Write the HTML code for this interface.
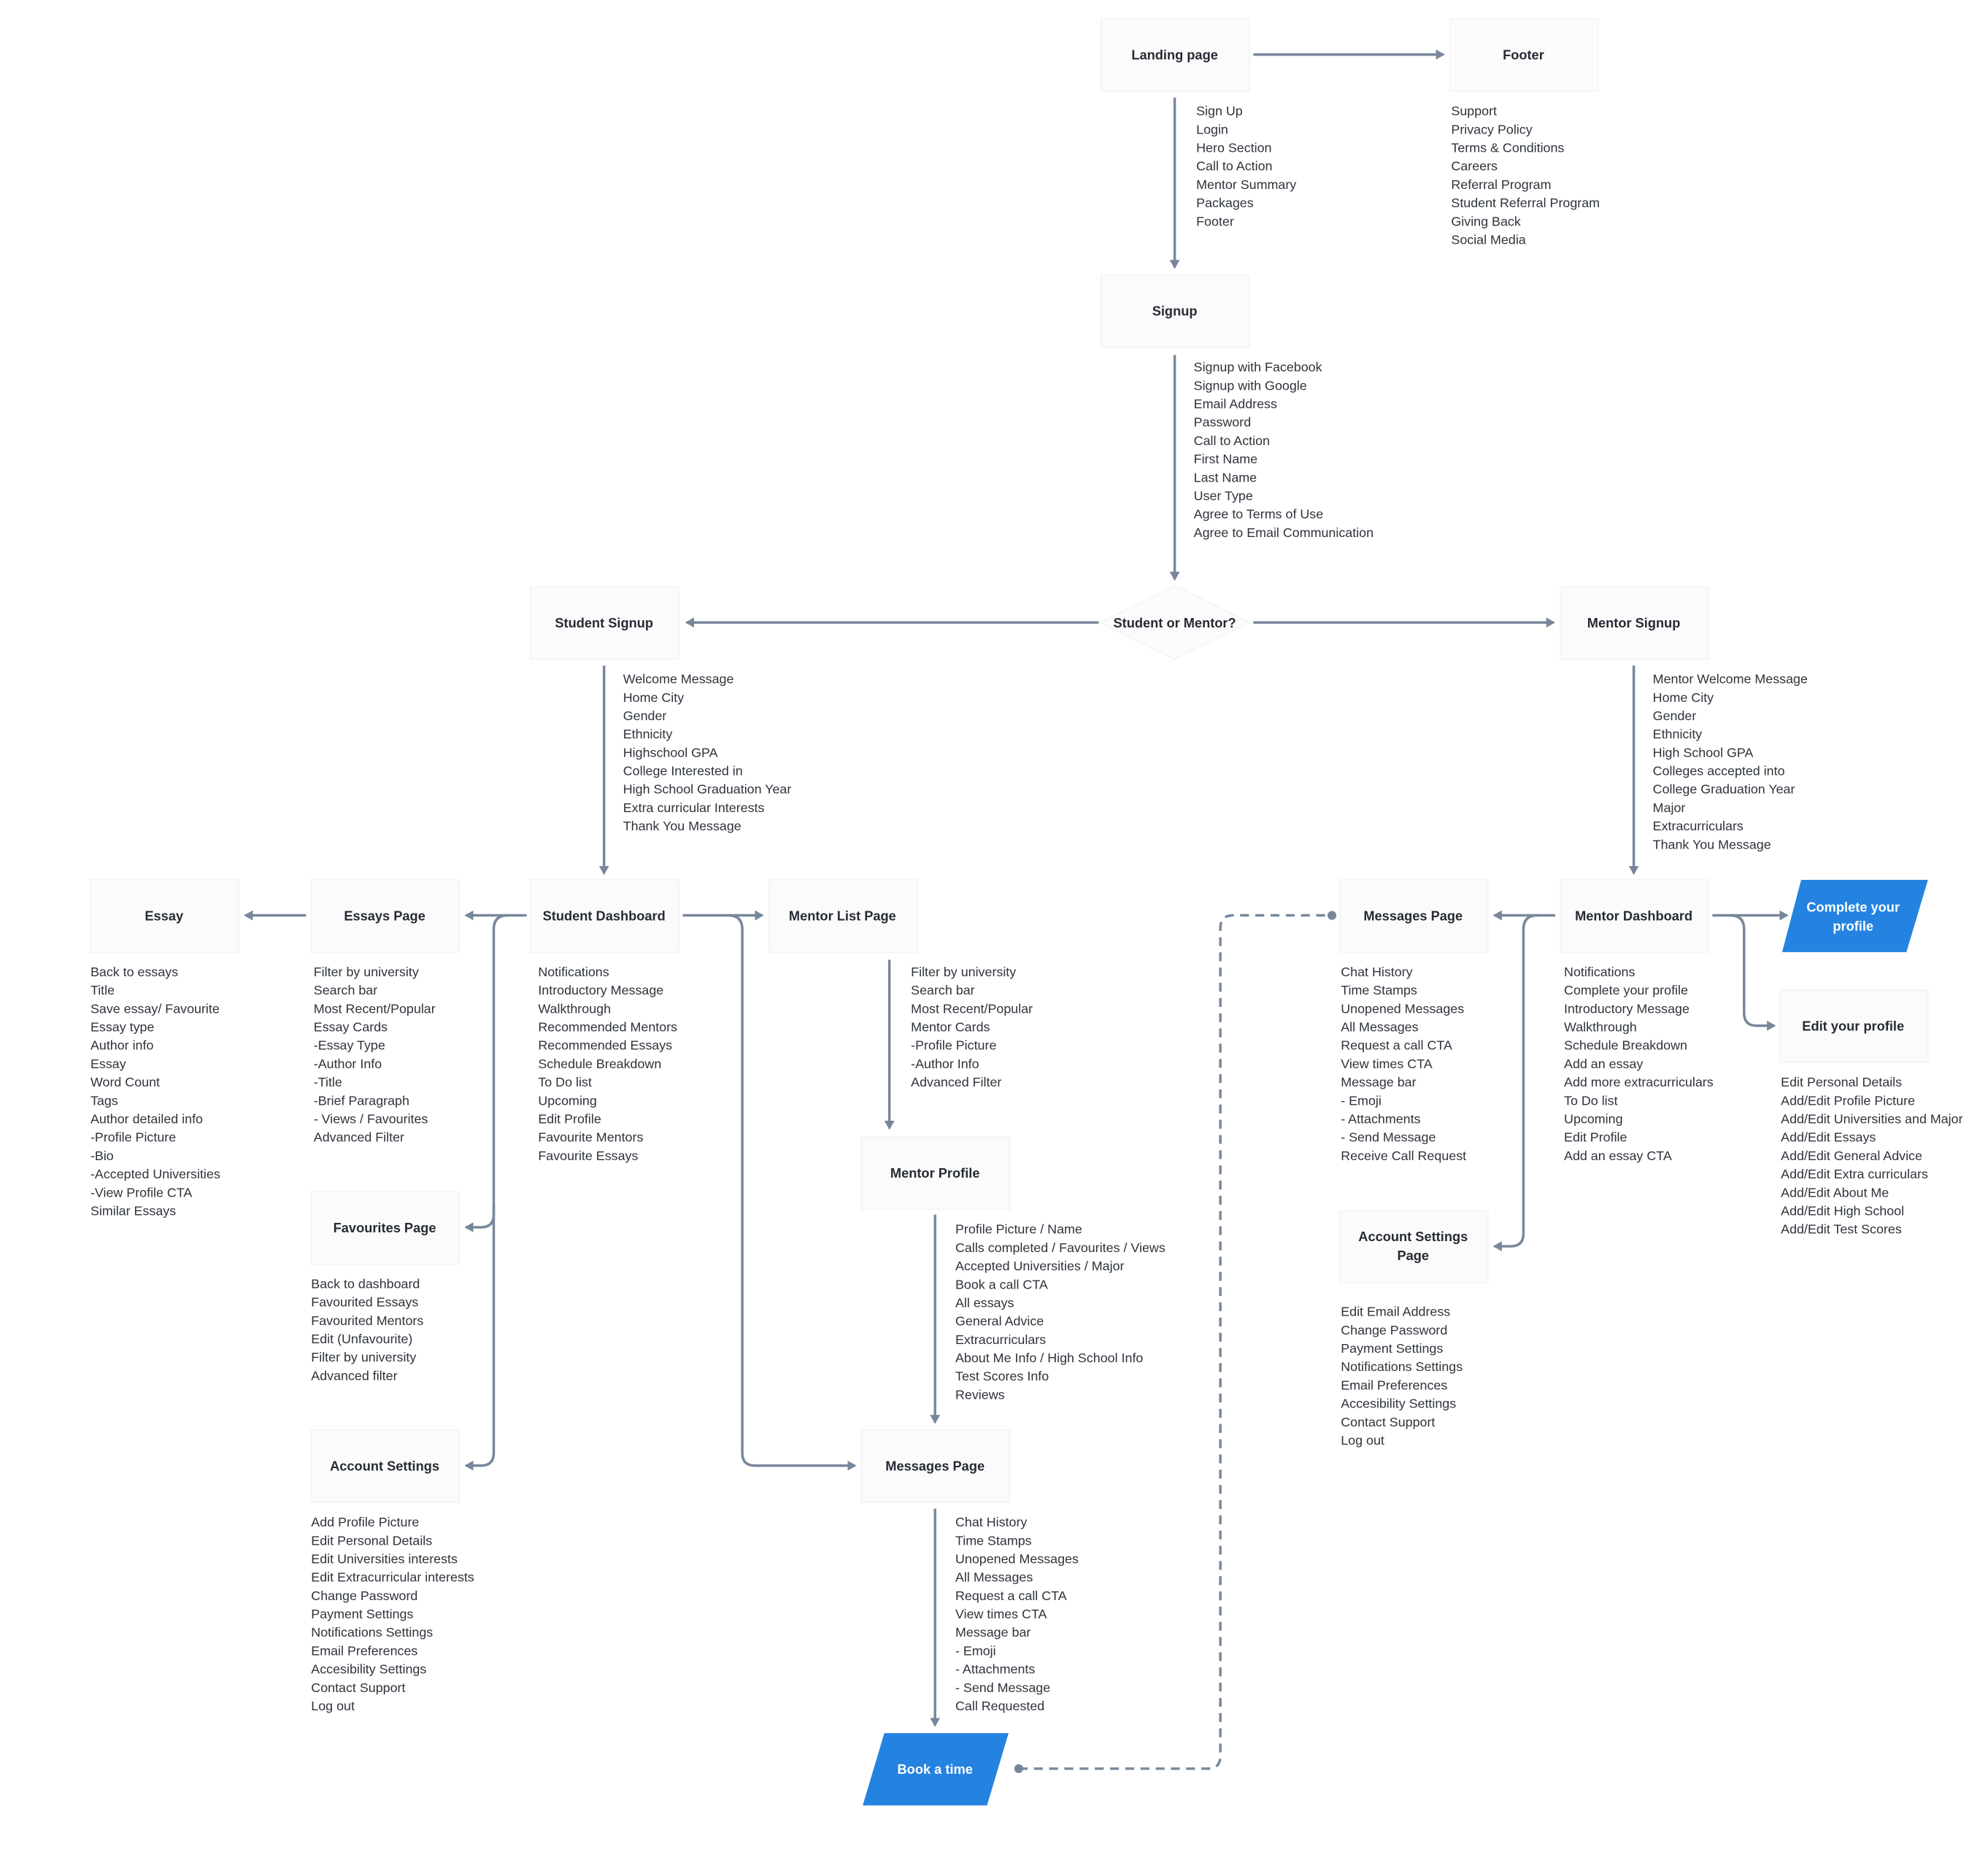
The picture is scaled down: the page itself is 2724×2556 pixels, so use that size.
<!DOCTYPE html>
<html><head><meta charset="utf-8"><style>
html,body{margin:0;padding:0;background:#fff}
svg{display:block}
text{font-family:"Liberation Sans",sans-serif;fill:#2e333b}
.l{font-size:10.3px}
.t{font-size:10.5px;font-weight:bold;text-anchor:middle;fill:#262b33}
.w{font-size:10.5px;font-weight:bold;text-anchor:middle;fill:#fff}
.b{fill:#fbfbfc;stroke:#f3f4f6;stroke-width:1}
.c{fill:none;stroke:#78879b;stroke-width:2}
.d{fill:none;stroke:#78879b;stroke-width:2;stroke-dasharray:7,5}
</style></head><body>
<svg width="2724" height="2556" viewBox="0 0 1567 1471" xmlns="http://www.w3.org/2000/svg">
<defs>
<marker id="a" markerWidth="8" markerHeight="8" refX="6" refY="4" orient="auto" markerUnits="userSpaceOnUse"><path d="M0,0 L7,4 L0,8 z" fill="#78879b"/></marker>
</defs>
<g>
<rect class="b" x="868" y="15" width="117" height="57"/>
<rect class="b" x="1143" y="15" width="117" height="57"/>
<rect class="b" x="868" y="217" width="117" height="57"/>
<polygon class="b" points="926,462 985,491 926,520 867,491"/>
<rect class="b" x="418" y="463" width="117" height="57"/>
<rect class="b" x="1230" y="463" width="117" height="57"/>
<rect class="b" x="71" y="694" width="117" height="57"/>
<rect class="b" x="245" y="694" width="117" height="57"/>
<rect class="b" x="418" y="694" width="117" height="57"/>
<rect class="b" x="606" y="694" width="117" height="57"/>
<rect class="b" x="1056" y="694" width="117" height="57"/>
<rect class="b" x="1230" y="694" width="117" height="57"/>
<rect class="b" x="1403" y="781" width="117" height="57"/>
<rect class="b" x="245" y="940" width="117" height="57"/>
<rect class="b" x="679" y="897" width="117" height="57"/>
<rect class="b" x="1056" y="955" width="117" height="57"/>
<rect class="b" x="245" y="1128" width="117" height="57"/>
<rect class="b" x="679" y="1128" width="117" height="57"/>
<polygon points="1420,694 1520,694 1503,751 1405,751" fill="#2483e0"/>
<polygon points="697,1367 795,1367 778,1424 680,1424" fill="#2483e0"/>
</g>
<g>
<text class="t" x="926" y="47">Landing page</text>
<text class="t" x="1201" y="47">Footer</text>
<text class="t" x="926" y="249">Signup</text>
<text class="t" x="926" y="495">Student or Mentor?</text>
<text class="t" x="476" y="495">Student Signup</text>
<text class="t" x="1288" y="495">Mentor Signup</text>
<text class="t" x="129" y="726">Essay</text>
<text class="t" x="303" y="726">Essays Page</text>
<text class="t" x="476" y="726">Student Dashboard</text>
<text class="t" x="664" y="726">Mentor List Page</text>
<text class="t" x="1114" y="726">Messages Page</text>
<text class="t" x="1288" y="726">Mentor Dashboard</text>
<text class="w" x="1461" y="719">Complete your</text>
<text class="w" x="1461" y="734">profile</text>
<text class="t" x="1461" y="813">Edit your profile</text>
<text class="t" x="303" y="972">Favourites Page</text>
<text class="t" x="737" y="929">Mentor Profile</text>
<text class="t" x="1114" y="979">Account Settings</text>
<text class="t" x="1114" y="994">Page</text>
<text class="t" x="303" y="1160">Account Settings</text>
<text class="t" x="737" y="1160">Messages Page</text>
<text class="w" x="737" y="1399">Book a time</text>
</g>
<g>
<path class="c" d="M988,43 H1138" marker-end="url(#a)"/>
<path class="c" d="M926,77 V211" marker-end="url(#a)"/>
<path class="c" d="M926,280 V457" marker-end="url(#a)"/>
<path class="c" d="M866,491 H541" marker-end="url(#a)"/>
<path class="c" d="M988,491 H1225" marker-end="url(#a)"/>
<path class="c" d="M476,525 V689" marker-end="url(#a)"/>
<path class="c" d="M1288,525 V689" marker-end="url(#a)"/>
<path class="c" d="M241,722 H193" marker-end="url(#a)"/>
<path class="c" d="M415,722 H367" marker-end="url(#a)"/>
<path class="c" d="M400,722 Q389,722 389,733 V958 Q389,968 379,968 H367" marker-end="url(#a)"/>
<path class="c" d="M389,950 V1146 Q389,1156 379,1156 H367" marker-end="url(#a)"/>
<path class="c" d="M538,722 H601" marker-end="url(#a)"/>
<path class="c" d="M574,722 Q585,722 585,733 V1146 Q585,1156 595,1156 H674" marker-end="url(#a)"/>
<path class="c" d="M701,757 V890" marker-end="url(#a)"/>
<path class="c" d="M737,958 V1122" marker-end="url(#a)"/>
<path class="c" d="M737,1190 V1361" marker-end="url(#a)"/>
<path class="c" d="M1226,722 H1178" marker-end="url(#a)"/>
<path class="c" d="M1212,722 Q1201,722 1201,733 V973 Q1201,983 1191,983 H1178" marker-end="url(#a)"/>
<path class="c" d="M1350,722 H1409" marker-end="url(#a)"/>
<path class="c" d="M1364,722 Q1375,722 1375,733 V799 Q1375,809 1385,809 H1399" marker-end="url(#a)"/>
<path class="d" d="M803,1395 H952 Q962,1395 962,1385 V732 Q962,722 972,722 H1050"/>
<circle cx="803" cy="1395" r="3.5" fill="#78879b"/>
<circle cx="1050" cy="722" r="3.5" fill="#78879b"/>
</g>
<g class="l">
<text x="943" y="91"><tspan x="943">Sign Up</tspan><tspan x="943" dy="14.5">Login</tspan><tspan x="943" dy="14.5">Hero Section</tspan><tspan x="943" dy="14.5">Call to Action</tspan><tspan x="943" dy="14.5">Mentor Summary</tspan><tspan x="943" dy="14.5">Packages</tspan><tspan x="943" dy="14.5">Footer</tspan></text>
<text x="1144" y="91"><tspan x="1144">Support</tspan><tspan x="1144" dy="14.5">Privacy Policy</tspan><tspan x="1144" dy="14.5">Terms &amp; Conditions</tspan><tspan x="1144" dy="14.5">Careers</tspan><tspan x="1144" dy="14.5">Referral Program</tspan><tspan x="1144" dy="14.5">Student Referral Program</tspan><tspan x="1144" dy="14.5">Giving Back</tspan><tspan x="1144" dy="14.5">Social Media</tspan></text>
<text x="941" y="293"><tspan x="941">Signup with Facebook</tspan><tspan x="941" dy="14.5">Signup with Google</tspan><tspan x="941" dy="14.5">Email Address</tspan><tspan x="941" dy="14.5">Password</tspan><tspan x="941" dy="14.5">Call to Action</tspan><tspan x="941" dy="14.5">First Name</tspan><tspan x="941" dy="14.5">Last Name</tspan><tspan x="941" dy="14.5">User Type</tspan><tspan x="941" dy="14.5">Agree to Terms of Use</tspan><tspan x="941" dy="14.5">Agree to Email Communication</tspan></text>
<text x="491" y="539"><tspan x="491">Welcome Message</tspan><tspan x="491" dy="14.5">Home City</tspan><tspan x="491" dy="14.5">Gender</tspan><tspan x="491" dy="14.5">Ethnicity</tspan><tspan x="491" dy="14.5">Highschool GPA</tspan><tspan x="491" dy="14.5">College Interested in</tspan><tspan x="491" dy="14.5">High School Graduation Year</tspan><tspan x="491" dy="14.5">Extra curricular Interests</tspan><tspan x="491" dy="14.5">Thank You Message</tspan></text>
<text x="1303" y="539"><tspan x="1303">Mentor Welcome Message</tspan><tspan x="1303" dy="14.5">Home City</tspan><tspan x="1303" dy="14.5">Gender</tspan><tspan x="1303" dy="14.5">Ethnicity</tspan><tspan x="1303" dy="14.5">High School GPA</tspan><tspan x="1303" dy="14.5">Colleges accepted into</tspan><tspan x="1303" dy="14.5">College Graduation Year</tspan><tspan x="1303" dy="14.5">Major</tspan><tspan x="1303" dy="14.5">Extracurriculars</tspan><tspan x="1303" dy="14.5">Thank You Message</tspan></text>
<text x="71" y="770"><tspan x="71">Back to essays</tspan><tspan x="71" dy="14.5">Title</tspan><tspan x="71" dy="14.5">Save essay/ Favourite</tspan><tspan x="71" dy="14.5">Essay type</tspan><tspan x="71" dy="14.5">Author info</tspan><tspan x="71" dy="14.5">Essay</tspan><tspan x="71" dy="14.5">Word Count</tspan><tspan x="71" dy="14.5">Tags</tspan><tspan x="71" dy="14.5">Author detailed info</tspan><tspan x="71" dy="14.5">-Profile Picture</tspan><tspan x="71" dy="14.5">-Bio</tspan><tspan x="71" dy="14.5">-Accepted Universities</tspan><tspan x="71" dy="14.5">-View Profile CTA</tspan><tspan x="71" dy="14.5">Similar Essays</tspan></text>
<text x="247" y="770"><tspan x="247">Filter by university</tspan><tspan x="247" dy="14.5">Search bar</tspan><tspan x="247" dy="14.5">Most Recent/Popular</tspan><tspan x="247" dy="14.5">Essay Cards</tspan><tspan x="247" dy="14.5">-Essay Type</tspan><tspan x="247" dy="14.5">-Author Info</tspan><tspan x="247" dy="14.5">-Title</tspan><tspan x="247" dy="14.5">-Brief Paragraph</tspan><tspan x="247" dy="14.5">- Views / Favourites</tspan><tspan x="247" dy="14.5">Advanced Filter</tspan></text>
<text x="424" y="770"><tspan x="424">Notifications</tspan><tspan x="424" dy="14.5">Introductory Message</tspan><tspan x="424" dy="14.5">Walkthrough</tspan><tspan x="424" dy="14.5">Recommended Mentors</tspan><tspan x="424" dy="14.5">Recommended Essays</tspan><tspan x="424" dy="14.5">Schedule Breakdown</tspan><tspan x="424" dy="14.5">To Do list</tspan><tspan x="424" dy="14.5">Upcoming</tspan><tspan x="424" dy="14.5">Edit Profile</tspan><tspan x="424" dy="14.5">Favourite Mentors</tspan><tspan x="424" dy="14.5">Favourite Essays</tspan></text>
<text x="718" y="770"><tspan x="718">Filter by university</tspan><tspan x="718" dy="14.5">Search bar</tspan><tspan x="718" dy="14.5">Most Recent/Popular</tspan><tspan x="718" dy="14.5">Mentor Cards</tspan><tspan x="718" dy="14.5">-Profile Picture</tspan><tspan x="718" dy="14.5">-Author Info</tspan><tspan x="718" dy="14.5">Advanced Filter</tspan></text>
<text x="1057" y="770"><tspan x="1057">Chat History</tspan><tspan x="1057" dy="14.5">Time Stamps</tspan><tspan x="1057" dy="14.5">Unopened Messages</tspan><tspan x="1057" dy="14.5">All Messages</tspan><tspan x="1057" dy="14.5">Request a call CTA</tspan><tspan x="1057" dy="14.5">View times CTA</tspan><tspan x="1057" dy="14.5">Message bar</tspan><tspan x="1057" dy="14.5">- Emoji</tspan><tspan x="1057" dy="14.5">- Attachments</tspan><tspan x="1057" dy="14.5">- Send Message</tspan><tspan x="1057" dy="14.5">Receive Call Request</tspan></text>
<text x="1233" y="770"><tspan x="1233">Notifications</tspan><tspan x="1233" dy="14.5">Complete your profile</tspan><tspan x="1233" dy="14.5">Introductory Message</tspan><tspan x="1233" dy="14.5">Walkthrough</tspan><tspan x="1233" dy="14.5">Schedule Breakdown</tspan><tspan x="1233" dy="14.5">Add an essay</tspan><tspan x="1233" dy="14.5">Add more extracurriculars</tspan><tspan x="1233" dy="14.5">To Do list</tspan><tspan x="1233" dy="14.5">Upcoming</tspan><tspan x="1233" dy="14.5">Edit Profile</tspan><tspan x="1233" dy="14.5">Add an essay CTA</tspan></text>
<text x="1404" y="857"><tspan x="1404">Edit Personal Details</tspan><tspan x="1404" dy="14.5">Add/Edit Profile Picture</tspan><tspan x="1404" dy="14.5">Add/Edit Universities and Major</tspan><tspan x="1404" dy="14.5">Add/Edit Essays</tspan><tspan x="1404" dy="14.5">Add/Edit General Advice</tspan><tspan x="1404" dy="14.5">Add/Edit Extra curriculars</tspan><tspan x="1404" dy="14.5">Add/Edit About Me</tspan><tspan x="1404" dy="14.5">Add/Edit High School</tspan><tspan x="1404" dy="14.5">Add/Edit Test Scores</tspan></text>
<text x="245" y="1016"><tspan x="245">Back to dashboard</tspan><tspan x="245" dy="14.5">Favourited Essays</tspan><tspan x="245" dy="14.5">Favourited Mentors</tspan><tspan x="245" dy="14.5">Edit (Unfavourite)</tspan><tspan x="245" dy="14.5">Filter by university</tspan><tspan x="245" dy="14.5">Advanced filter</tspan></text>
<text x="753" y="973"><tspan x="753">Profile Picture / Name</tspan><tspan x="753" dy="14.5">Calls completed / Favourites / Views</tspan><tspan x="753" dy="14.5">Accepted Universities / Major</tspan><tspan x="753" dy="14.5">Book a call CTA</tspan><tspan x="753" dy="14.5">All essays</tspan><tspan x="753" dy="14.5">General Advice</tspan><tspan x="753" dy="14.5">Extracurriculars</tspan><tspan x="753" dy="14.5">About Me Info / High School Info</tspan><tspan x="753" dy="14.5">Test Scores Info</tspan><tspan x="753" dy="14.5">Reviews</tspan></text>
<text x="1057" y="1038"><tspan x="1057">Edit Email Address</tspan><tspan x="1057" dy="14.5">Change Password</tspan><tspan x="1057" dy="14.5">Payment Settings</tspan><tspan x="1057" dy="14.5">Notifications Settings</tspan><tspan x="1057" dy="14.5">Email Preferences</tspan><tspan x="1057" dy="14.5">Accesibility Settings</tspan><tspan x="1057" dy="14.5">Contact Support</tspan><tspan x="1057" dy="14.5">Log out</tspan></text>
<text x="245" y="1204"><tspan x="245">Add Profile Picture</tspan><tspan x="245" dy="14.5">Edit Personal Details</tspan><tspan x="245" dy="14.5">Edit Universities interests</tspan><tspan x="245" dy="14.5">Edit Extracurricular interests</tspan><tspan x="245" dy="14.5">Change Password</tspan><tspan x="245" dy="14.5">Payment Settings</tspan><tspan x="245" dy="14.5">Notifications Settings</tspan><tspan x="245" dy="14.5">Email Preferences</tspan><tspan x="245" dy="14.5">Accesibility Settings</tspan><tspan x="245" dy="14.5">Contact Support</tspan><tspan x="245" dy="14.5">Log out</tspan></text>
<text x="753" y="1204"><tspan x="753">Chat History</tspan><tspan x="753" dy="14.5">Time Stamps</tspan><tspan x="753" dy="14.5">Unopened Messages</tspan><tspan x="753" dy="14.5">All Messages</tspan><tspan x="753" dy="14.5">Request a call CTA</tspan><tspan x="753" dy="14.5">View times CTA</tspan><tspan x="753" dy="14.5">Message bar</tspan><tspan x="753" dy="14.5">- Emoji</tspan><tspan x="753" dy="14.5">- Attachments</tspan><tspan x="753" dy="14.5">- Send Message</tspan><tspan x="753" dy="14.5">Call Requested</tspan></text>
</g>
</svg>
</body></html>
